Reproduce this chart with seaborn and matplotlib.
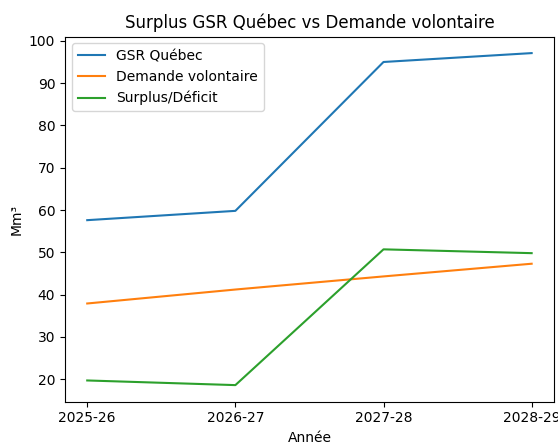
import matplotlib
matplotlib.use("Agg")
import matplotlib.pyplot as plt
import pandas as pd
import seaborn as sns

annees = ["2025-26", "2026-27", "2027-28", "2028-29"]
gsr_quebec = [57.6, 59.8, 95.0, 97.1]
demande_volontaire = [37.9, 41.2, 44.3, 47.3]
surplus_deficit = [19.7, 18.6, 50.7, 49.8]

df = pd.DataFrame({
    "Année": annees * 3,
    "Mm³": gsr_quebec + demande_volontaire + surplus_deficit,
    "Série": ["GSR Québec"] * 4 + ["Demande volontaire"] * 4 + ["Surplus/Déficit"] * 4,
})

fig, ax = plt.subplots(figsize=(5.58, 4.43), dpi=100)
sns.lineplot(data=df, x="Année", y="Mm³", hue="Série", ax=ax,
             palette=["#1f77b4", "#ff7f0e", "#2ca02c"], linewidth=1.5)
ax.set_title("Surplus GSR Québec vs Demande volontaire")
ax.set_xlabel("Année")
ax.set_ylabel("Mm³")
ax.legend(title=None, loc="upper left")
fig.subplots_adjust(left=0.1165, right=0.9926, top=0.9176, bottom=0.0932)
fig.savefig("out.png", dpi=100)
